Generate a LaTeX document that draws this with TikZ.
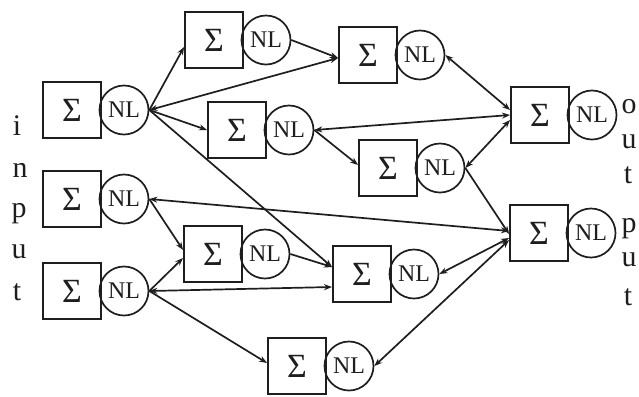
\documentclass[tikz,border=0pt]{standalone}
\usepackage{fontspec}
\setmainfont{Liberation Serif}
\usetikzlibrary{arrows.meta,calc}
\definecolor{ink}{HTML}{1E1E1E}
\newcommand{\nnunit}[3]{%
  \node[sumbox] (#1b) at (#2,#3) {Σ};
  \node[nlcirc] (#1c) at (#2+52,#3) {NL};
}
\begin{document}
\begin{tikzpicture}[x=1bp,y=-1bp,
  sumbox/.style={draw=ink, line width=1.9bp, minimum width=58bp, minimum height=56bp, inner sep=0pt, text=ink, font=\fontsize{34}{34}\selectfont},
  nlcirc/.style={draw=ink, line width=1.7bp, circle, minimum size=49bp, inner sep=0pt, text=ink, font=\fontsize{24}{24}\selectfont},
  link/.style={draw=ink, line width=1.7bp, -{Stealth[length=8bp,width=6bp]}},
  blink/.style={draw=ink, line width=1.7bp, {Stealth[length=8bp,width=6bp]}-{Stealth[length=8bp,width=6bp]}},
  letter/.style={font=\fontsize{30}{30}\selectfont, anchor=base, inner sep=0pt, text=ink}]
\fill[white] (0,0) rectangle (639,396);
\useasboundingbox (0,0) rectangle (639,396);

% units
\nnunit{A}{72}{110}
\nnunit{H}{72}{199}
\nnunit{I}{72}{291}
\nnunit{B}{214}{40}
\nnunit{C}{237}{130}
\nnunit{J}{213}{254}
\nnunit{K}{297}{366}
\nnunit{D}{368}{55}
\nnunit{F}{388}{168}
\nnunit{L}{362}{274}
\nnunit{E}{540}{115}
\nnunit{G}{539}{233}

% input letters
\node[letter] (in1) at (17,135) {i};
\node[letter] (in2) at (20,177) {n};
\node[letter] (in3) at (19,217) {p};
\node[letter] (in4) at (19,258) {u};
\node[letter] (in5) at (17,300) {t};

% output letters
\node[letter] (out1) at (629,113) {o};
\node[letter] (out2) at (629,148) {u};
\node[letter] (out3) at (628,183) {t};
\node[letter] (out4) at (629,232) {p};
\node[letter] (out5) at (629,266) {u};
\node[letter] (out6) at (628,305) {t};

% connectors
\draw[link]  (Ac.east) -- ($(Bb.west)+(0,7)$);
\draw[link]  (Ac.east) -- (Cb.west);
\draw[blink] (Ac.east) -- ($(Db.west)+(0,3)$);
\draw[link]  (Ac.east) -- ($(Lb.west)+(0,-7)$);
\draw[link]  (Bc.east) -- ($(Db.west)+(0,3)$);
\draw[blink] (Dc.east) -- ($(Eb.west)+(0,-5)$);
\draw[blink] (Cc.east) -- (Eb.west);
\draw[link]  (Cc.east) -- ($(Fb.west)+(0,-3)$);
\draw[blink] (Fc.east) -- ($(Eb.west)+(0,5)$);
\draw[link]  (Fc.east) -- ($(Gb.west)+(0,1)$);
\draw[link]  (Hc.east) -- ($(Jb.west)+(0,-4)$);
\draw[blink] (Hc.east) -- ($(Gb.west)+(0,-2)$);
\draw[link]  (Ic.east) -- ($(Jb.west)+(0,4)$);
\draw[blink] (Ic.east) -- ($(Lb.west)+(0,13)$);
\draw[link]  (Ic.east) -- ($(Kb.west)+(0,-3)$);
\draw[link]  (Jc.east) -- ($(Lb.west)+(0,-7)$);
\draw[blink] (Lc.east) -- ($(Gb.west)+(0,5)$);
\draw[blink] (Kc.east) -- ($(Gb.west)+(0,7)$);
\end{tikzpicture}
\end{document}
